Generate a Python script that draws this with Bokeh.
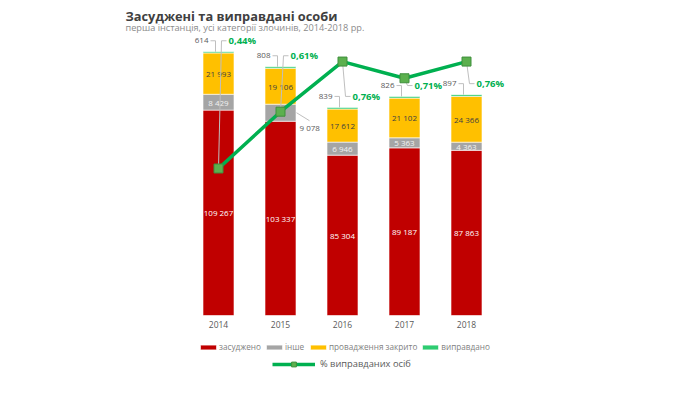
import numpy as np
from bokeh.plotting import figure
from bokeh.models import Range1d, Legend, LegendItem, Label, FixedTicker
from bokeh.embed import file_html
from bokeh.resources import INLINE
from bokeh.core.properties import value

# ---------------- data ----------------
years = [2014, 2015, 2016, 2017, 2018]
convicted = [109267, 103337, 85304, 89187, 87863]
other = [8429, 9078, 6946, 5363, 4363]
closed = [21993, 19106, 17612, 21102, 24366]
acquitted = [614, 808, 839, 826, 897]
acq_pct = [0.44, 0.61, 0.76, 0.71, 0.76]
pct_labels = ["0,44%", "0,61%", "0,76%", "0,71%", "0,76%"]
series_names = ["засуджено", "інше", "провадження закрито", "виправдано"]
line_name = "% виправданих осіб"
title_text = "Засуджені та виправдані особи"
subtitle_text = "перша інстанція, усі категорії злочинів, 2014-2018 рр."
other_label_outside = [False, True, False, False, False]

# ---------------- layout / styles ----------------
W = 675
FRAME_H = 378        # whole drawing area
BASE_PX = 315        # baseline, pixels from top
BELOW_PX = FRAME_H - BASE_PX
PX_PER_YEAR = 62.0
FIRST_X_PX = 218.0
UPP = 532.0          # bar units per pixel
PPP = 0.002993       # percent per pixel
X_START = years[0] - FIRST_X_PX / PX_PER_YEAR
FONT = "Open Sans"
colors = ["#C00000", "#A5A5A5", "#FFC000", "#2ECC71"]
LINE_GREEN = "#00B050"
LEADER = "#BFBFBF"

def fmt(v):
    return f"{v:,}".replace(",", " ")

def dx(px):
    return px / PX_PER_YEAR

def dy(px):
    return px * UPP

p = figure(frame_width=W, frame_height=FRAME_H,
           x_range=Range1d(X_START, X_START + W / PX_PER_YEAR),
           y_range=Range1d(-BELOW_PX * UPP, BASE_PX * UPP),
           output_backend="svg", toolbar_location=None,
           y_axis_location=None,
           min_border_left=0, min_border_right=0, min_border_top=0,
           min_border_bottom=0)
p.outline_line_color = None
p.grid.visible = False
p.extra_y_ranges = {"pct": Range1d(-BELOW_PX * PPP, BASE_PX * PPP)}

stack = np.array([convicted, other, closed, acquitted], dtype=float)
tops = np.cumsum(stack, axis=0)
bottoms = tops - stack

bar_renderers = []
for i, c in enumerate(colors):
    r = p.vbar(x=years, bottom=bottoms[i], top=tops[i], width=0.5,
               fill_color=c, line_color="white", line_width=0.6)
    bar_renderers.append(r)

yrs = np.array(years, dtype=float)
mids = (bottoms + tops) / 2

# convicted labels (white)
p.text(x=years, y=mids[0], text=[fmt(v) for v in convicted],
       text_align="center", text_baseline="middle", text_color="white",
       text_font=value(FONT), text_font_size="8px")

# other labels
in_x = [y for y, o in zip(years, other_label_outside) if not o]
in_y = [m for m, o in zip(mids[1], other_label_outside) if not o]
in_t = [fmt(v) for v, o in zip(other, other_label_outside) if not o]
p.text(x=in_x, y=in_y, text=in_t, text_align="center", text_baseline="middle",
       text_color="#F2F2F2", text_font=value(FONT), text_font_size="8px")
out_idx = [i for i, o in enumerate(other_label_outside) if o]
p.text(x=[yrs[i] + dx(19) for i in out_idx], y=[mids[1][i] - dy(14.5) for i in out_idx],
       text=[fmt(other[i]) for i in out_idx], text_align="left", text_baseline="middle",
       text_color="#595959", text_font=value(FONT), text_font_size="8px")
p.multi_line(xs=[[yrs[i] + dx(16), yrs[i] + dx(29)] for i in out_idx],
             ys=[[mids[1][i], mids[1][i] - dy(8)] for i in out_idx],
             line_color=LEADER, line_width=1)

# closed labels
p.text(x=years, y=mids[2], text=[fmt(v) for v in closed],
       text_align="center", text_baseline="middle", text_color="#404040",
       text_font=value(FONT), text_font_size="8px")

# acquitted count labels above bars with hook leaders
lab_y = tops[3] + dy(11)
p.text(x=yrs - dx(10), y=lab_y, text=[str(v) for v in acquitted],
       text_align="right", text_baseline="middle", text_color="#595959",
       text_font=value(FONT), text_font_size="8px")
p.multi_line(xs=[[x - dx(8), x - dx(3), x - dx(3)] for x in yrs],
             ys=[[ly, ly, t] for ly, t in zip(lab_y, tops[3])],
             line_color=LEADER, line_width=1)

# percent labels with leaders to markers
marker_y = np.array(acq_pct) / PPP * UPP
p.text(x=yrs + dx(10), y=lab_y, text=pct_labels,
       text_align="left", text_baseline="middle", text_color=LINE_GREEN,
       text_font=value(FONT), text_font_size="9.5px", text_font_style="bold")
p.multi_line(xs=[[x + dx(8), x + dx(3), x] for x in yrs],
             ys=[[ly, ly, my] for ly, my in zip(lab_y, marker_y)],
             line_color=LEADER, line_width=1)

line_r = p.line(years, acq_pct, y_range_name="pct", line_color=LINE_GREEN, line_width=3.5)
mark_r = p.scatter(years, acq_pct, y_range_name="pct", marker="square", size=9,
                   fill_color="#5CB04E", line_color="#3F8F3C", line_width=1)

# titles
p.add_layout(Label(x=X_START + dx(125), y=dy(BASE_PX - 15.5), text=title_text,
                   text_font=FONT, text_font_size="12.8px", text_font_style="bold",
                   text_color="#404040", text_baseline="alphabetic"))
p.add_layout(Label(x=X_START + dx(125), y=dy(BASE_PX - 26.5), text=subtitle_text,
                   text_font=FONT, text_font_size="9.2px",
                   text_color="#8C8C8C", text_baseline="alphabetic"))

# x axis drawn at the baseline
ax = p.xaxis[0]
ax.fixed_location = 0
ax.ticker = FixedTicker(ticks=years)
ax.axis_line_color = None
ax.major_tick_line_color = None
ax.minor_tick_line_color = None
ax.major_tick_out = 0
ax.major_tick_in = 0
ax.major_label_standoff = 5
ax.major_label_text_font = FONT
ax.major_label_text_font_size = "8.5px"
ax.major_label_text_color = "#595959"

leg1 = Legend(items=[LegendItem(label=n, renderers=[r]) for n, r in zip(series_names, bar_renderers)],
              orientation="horizontal", location=(198, FRAME_H - 352),
              glyph_width=20, glyph_height=6, label_standoff=1, spacing=3,
              padding=0, margin=0, border_line_color=None, background_fill_alpha=0,
              label_text_font=FONT, label_text_font_size="8.2px", label_text_color="#7F7F7F",
              label_height=10)
leg2 = Legend(items=[LegendItem(label=line_name, renderers=[line_r, mark_r])],
              orientation="horizontal", location=(272, FRAME_H - 370),
              glyph_width=43, glyph_height=12, label_standoff=5, spacing=6,
              padding=0, margin=0, border_line_color=None, background_fill_alpha=0,
              label_text_font=FONT, label_text_font_size="9.3px", label_text_color="#595959")
p.add_layout(leg1, "center")
p.add_layout(leg2, "center")

open("out.html", "w").write(file_html(p, INLINE))
